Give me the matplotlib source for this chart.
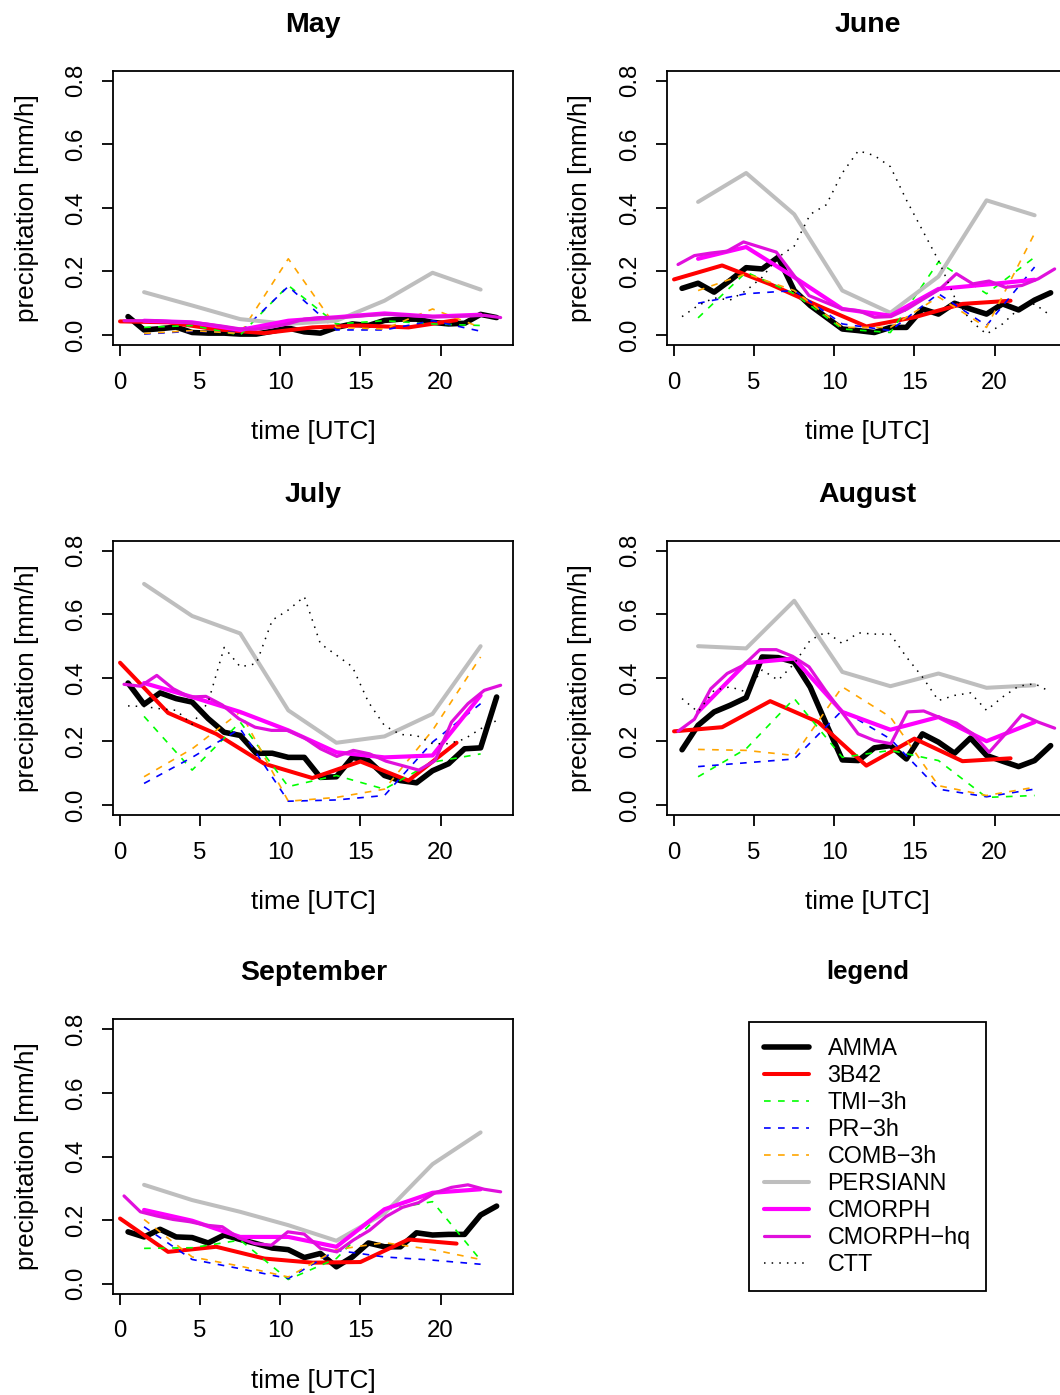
import numpy as np
import matplotlib.pyplot as plt
from matplotlib.lines import Line2D

plt.rcParams['font.family'] = ['Liberation Sans', 'DejaVu Sans']
plt.rcParams['lines.scale_dashes'] = False

# time axes of the products [UTC hour]
t_amma = np.arange(0.5, 24, 1.0)
t_3b42 = np.arange(0, 22, 3.0)
t_3h = np.arange(1.5, 24, 3.0)
t_hq = np.linspace(0.25, 23.75, 24)
t_ctt = np.arange(0.5, 24, 1.0)

# May
may_amma = [0.058, 0.016, 0.020, 0.025, 0.008, 0.006, 0.006, 0.003, 0.003, 0.012, 0.022, 0.010,
            0.006, 0.024, 0.035, 0.030, 0.046, 0.050, 0.050, 0.040, 0.035, 0.037, 0.065, 0.055]
may_3b42 = [0.043, 0.040, 0.018, 0.006, 0.024, 0.030, 0.024, 0.047]
may_tmi = [0.024, 0.030, 0.000, 0.156, 0.035, 0.045, 0.035, 0.030]
may_pr = [0.003, 0.012, 0.008, 0.153, 0.016, 0.016, 0.045, 0.012]
may_comb = [0.005, 0.014, 0.005, 0.240, 0.024, 0.019, 0.082, 0.024]
may_persiann = [0.135, 0.093, 0.050, 0.035, 0.045, 0.108, 0.196, 0.143]
may_cmorph = [0.045, 0.040, 0.016, 0.045, 0.056, 0.068, 0.058, 0.064]
may_cmorph_hq = [0.045, 0.045, 0.045, 0.042, 0.040, 0.035, 0.028, 0.020, 0.018, 0.025, 0.035, 0.050,
                 0.055, 0.055, 0.058, 0.062, 0.065, 0.063, 0.060, 0.058, 0.058, 0.060, 0.062, 0.055]

# June
jun_amma = [0.147, 0.163, 0.135, 0.172, 0.212, 0.208, 0.245, 0.140, 0.093, 0.056, 0.019, 0.014,
            0.008, 0.024, 0.024, 0.082, 0.066, 0.100, 0.082, 0.066, 0.098, 0.079, 0.110, 0.133]
jun_3b42 = [0.175, 0.219, 0.160, 0.092, 0.027, 0.056, 0.098, 0.108]
jun_tmi = [0.054, 0.198, 0.130, 0.019, 0.008, 0.230, 0.130, 0.245]
jun_pr = [0.100, 0.130, 0.140, 0.035, 0.014, 0.130, 0.030, 0.214]
jun_comb = [0.140, 0.193, 0.140, 0.024, 0.024, 0.120, 0.024, 0.320]
jun_persiann = [0.419, 0.510, 0.380, 0.140, 0.070, 0.184, 0.424, 0.377]
jun_cmorph = [0.240, 0.277, 0.182, 0.082, 0.061, 0.145, 0.159, 0.174]
jun_cmorph_hq = [0.222, 0.250, 0.258, 0.264, 0.293, 0.277, 0.261, 0.193, 0.124, 0.103, 0.082, 0.077,
                 0.056, 0.058, 0.082, 0.114, 0.145, 0.193, 0.161, 0.170, 0.150, 0.156, 0.177, 0.208]
jun_ctt = [0.058, 0.093, 0.117, 0.110, 0.140, 0.182, 0.245, 0.280, 0.380, 0.410, 0.510, 0.580,
           0.565, 0.530, 0.425, 0.330, 0.235, 0.120, 0.045, 0.003, 0.035, 0.082, 0.098, 0.061]

# July
jul_amma = [0.384, 0.317, 0.353, 0.335, 0.324, 0.272, 0.229, 0.219, 0.163, 0.163, 0.150, 0.150,
            0.087, 0.089, 0.150, 0.140, 0.093, 0.077, 0.070, 0.108, 0.130, 0.177, 0.180, 0.340]
jul_3b42 = [0.448, 0.290, 0.224, 0.130, 0.085, 0.137, 0.077, 0.196]
jul_tmi = [0.279, 0.110, 0.261, 0.058, 0.093, 0.050, 0.135, 0.161]
jul_pr = [0.068, 0.150, 0.240, 0.012, 0.016, 0.030, 0.198, 0.319]
jul_comb = [0.089, 0.177, 0.293, 0.012, 0.024, 0.050, 0.235, 0.466]
jul_persiann = [0.696, 0.595, 0.540, 0.298, 0.196, 0.216, 0.287, 0.500]
jul_cmorph = [0.384, 0.340, 0.293, 0.235, 0.166, 0.150, 0.156, 0.345]
jul_cmorph_hq = [0.380, 0.374, 0.408, 0.366, 0.340, 0.342, 0.315, 0.272, 0.245, 0.235, 0.235, 0.212,
                 0.177, 0.153, 0.172, 0.161, 0.138, 0.124, 0.110, 0.140, 0.261, 0.319, 0.361, 0.377]
jul_ctt = [0.312, 0.310, 0.303, 0.298, 0.254, 0.324, 0.496, 0.435, 0.445, 0.582, 0.614, 0.656,
           0.508, 0.472, 0.435, 0.324, 0.250, 0.222, 0.219, 0.193, 0.193, 0.208, 0.240, 0.266]

# August
aug_amma = [0.174, 0.251, 0.293, 0.314, 0.338, 0.466, 0.464, 0.450, 0.371, 0.255, 0.142, 0.140,
            0.180, 0.187, 0.145, 0.224, 0.198, 0.163, 0.211, 0.156, 0.138, 0.121, 0.140, 0.187]
aug_3b42 = [0.232, 0.245, 0.327, 0.261, 0.124, 0.209, 0.138, 0.147]
aug_tmi = [0.089, 0.177, 0.335, 0.150, 0.172, 0.140, 0.024, 0.030]
aug_pr = [0.121, 0.133, 0.145, 0.298, 0.208, 0.050, 0.026, 0.050]
aug_comb = [0.175, 0.172, 0.156, 0.372, 0.277, 0.061, 0.030, 0.056]
aug_persiann = [0.500, 0.493, 0.643, 0.419, 0.374, 0.414, 0.369, 0.377]
aug_cmorph = [0.293, 0.447, 0.461, 0.293, 0.237, 0.277, 0.201, 0.261]
aug_cmorph_hq = [0.232, 0.270, 0.366, 0.414, 0.440, 0.489, 0.489, 0.468, 0.435, 0.361, 0.293, 0.224,
                 0.203, 0.193, 0.293, 0.296, 0.275, 0.258, 0.224, 0.166, 0.224, 0.284, 0.261, 0.242]
aug_ctt = [0.335, 0.293, 0.361, 0.372, 0.356, 0.425, 0.393, 0.445, 0.519, 0.545, 0.508, 0.542,
           0.538, 0.538, 0.466, 0.403, 0.329, 0.345, 0.353, 0.298, 0.340, 0.374, 0.382, 0.356]

# September
sep_amma = [0.163, 0.147, 0.171, 0.147, 0.145, 0.128, 0.153, 0.139, 0.126, 0.112, 0.107, 0.082,
            0.095, 0.053, 0.084, 0.128, 0.116, 0.116, 0.160, 0.153, 0.155, 0.155, 0.216, 0.244]
sep_3b42 = [0.205, 0.100, 0.116, 0.079, 0.066, 0.068, 0.139, 0.126]
sep_tmi = [0.111, 0.113, 0.137, 0.013, 0.079, 0.232, 0.258, 0.074]
sep_pr = [0.179, 0.076, 0.047, 0.016, 0.105, 0.084, 0.074, 0.061]
sep_comb = [0.202, 0.084, 0.055, 0.021, 0.107, 0.129, 0.107, 0.076]
sep_persiann = [0.311, 0.263, 0.226, 0.184, 0.135, 0.221, 0.376, 0.476]
sep_cmorph = [0.232, 0.198, 0.147, 0.147, 0.116, 0.234, 0.286, 0.297]
sep_cmorph_hq = [0.276, 0.226, 0.213, 0.202, 0.195, 0.184, 0.179, 0.144, 0.126, 0.121, 0.163, 0.156,
                 0.111, 0.100, 0.137, 0.168, 0.211, 0.240, 0.255, 0.286, 0.303, 0.311, 0.297, 0.289]

# line styles: label, colour, width, dash pattern (points)
DASH = (0, (4.8, 5.3))
DOT = (0, (1.1, 4.4))
styles = [("AMMA", "black", 4.0, "-"),
          ("3B42", "#FF0000", 2.9, "-"),
          ("TMI\u22123h", "#00FF00", 1.2, DASH),
          ("PR\u22123h", "#0000FF", 1.2, DASH),
          ("COMB\u22123h", "#FFA500", 1.2, DASH),
          ("PERSIANN", "#BEBEBE", 2.9, "-"),
          ("CMORPH", "#FF00FF", 3.0, "-"),
          ("CMORPH\u2212hq", "#E010DC", 2.3, "-"),
          ("CTT", "black", 1.1, DOT)]

panels = [
    ("May", [may_amma, may_3b42, may_tmi, may_pr, may_comb, may_persiann, may_cmorph, may_cmorph_hq, None]),
    ("June", [jun_amma, jun_3b42, jun_tmi, jun_pr, jun_comb, jun_persiann, jun_cmorph, jun_cmorph_hq, jun_ctt]),
    ("July", [jul_amma, jul_3b42, jul_tmi, jul_pr, jul_comb, jul_persiann, jul_cmorph, jul_cmorph_hq, jul_ctt]),
    ("August", [aug_amma, aug_3b42, aug_tmi, aug_pr, aug_comb, aug_persiann, aug_cmorph, aug_cmorph_hq, aug_ctt]),
    ("September", [sep_amma, sep_3b42, sep_tmi, sep_pr, sep_comb, sep_persiann, sep_cmorph, sep_cmorph_hq, None]),
]
times = [t_amma, t_3b42, t_3h, t_3h, t_3h, t_3h, t_3h, t_hq, t_ctt]

W, H = 1060, 1395
col_left = [113.3, 667.3]
row_top = [70.7, 540.7, 1019.3]
box_w, box_h = 400.0, 274.5


def box(col, row):
    return [col_left[col] / W, 1 - (row_top[row] + box_h) / H, box_w / W, box_h / H]


def line_kw(style):
    label, color, lw, ls = style
    kw = dict(color=color, lw=lw, linestyle=ls)
    if ls == "-":
        kw.update(solid_capstyle="round", solid_joinstyle="round")
    else:
        kw.update(dash_capstyle="butt")
    return kw


fig = plt.figure(figsize=(W / 100, H / 100), dpi=100)

for k, (month, series) in enumerate(panels):
    ax = fig.add_axes(box(k % 2, k // 2))
    for t, vals, st in zip(times, series, styles):
        if vals is None:
            continue
        ax.plot(t, vals, **line_kw(st))
    ax.set_xlim(-0.42, 24.54)
    ax.set_ylim(-0.032, 0.832)
    ax.set_xticks([0, 5, 10, 15, 20])
    yt = np.arange(0, 0.81, 0.2)
    ax.set_yticks(yt, ["%.1f" % v for v in yt], rotation=90, va="center")
    ax.tick_params(direction="out", length=8, width=1.3, labelsize=17.3, pad=11)
    for sp in ax.spines.values():
        sp.set_linewidth(1.3)
    ax.set_title(month, fontsize=20.5, fontweight="bold", pad=28)
    ax.set_xlabel("time [UTC]", fontsize=18.8, va="center")
    ax.xaxis.set_label_coords(0.5, -0.316)
    ax.set_ylabel("precipitation [mm/h]", fontsize=18.8, va="center")
    ax.yaxis.set_label_coords(-0.217, 0.5)

# legend panel
lax = fig.add_axes(box(1, 2))
lax.axis("off")
lax.set_title("legend", fontsize=18.5, fontweight="bold", pad=29)
handles = [Line2D([], [], **line_kw(st)) for st in styles]
lax.legend(handles, [st[0] for st in styles], loc="center", fontsize=16.8,
           frameon=True, fancybox=False, edgecolor="black", framealpha=1,
           handlelength=1.93, handletextpad=0.8, borderpad=0.65, labelspacing=0.17
           ).get_frame().set_linewidth(1.3)

fig.savefig("out.png", dpi=100)
